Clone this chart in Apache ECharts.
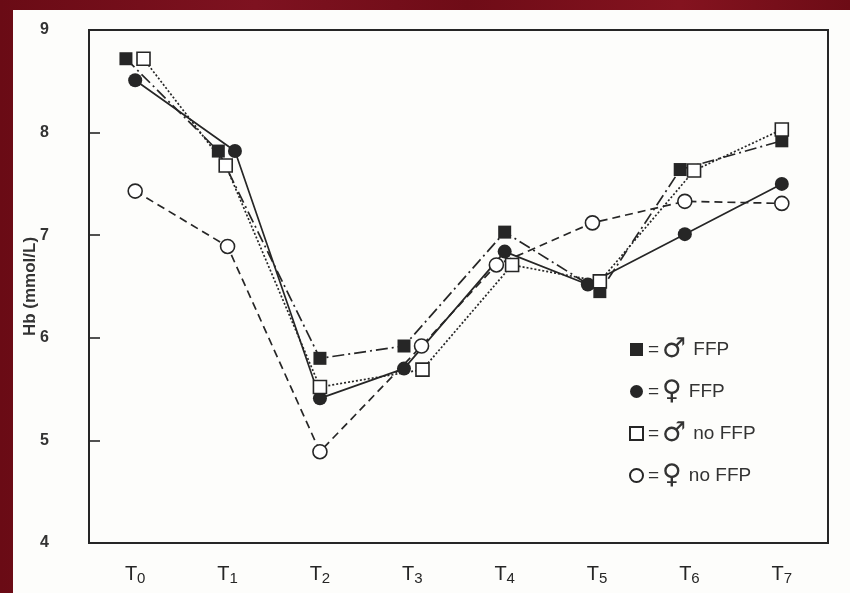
<!DOCTYPE html>
<html>
<head>
<meta charset="utf-8">
<script src="https://cdn.jsdelivr.net/npm/echarts@6/dist/echarts.min.js"></script>
<style>
  html, body { margin: 0; padding: 0; }
  body {
    width: 850px; height: 593px; overflow: hidden; position: relative;
    background: linear-gradient(90deg, #6a0b15 0%, #7e1220 30%, #6f0c17 55%, #84131f 80%, #6d0c16 100%);
  }
  #paper { position: absolute; left: 13px; top: 10px; width: 837px; height: 583px; background: #fdfdfb; }
  #chart { position: absolute; left: 0; top: 0; width: 850px; height: 593px; }
</style>
</head>
<body>
<div id="paper"></div>
<div id="chart"></div>
<script>
// Time points T0..T7 (subscript digit drawn via rich text)
const timeDigits = ['0', '1', '2', '3', '4', '5', '6', '7'];

// Hb (mmol/L) per group
const maleFFP     = [8.72, 7.82, 5.80, 5.92, 7.03, 6.45, 7.64, 7.92];
const femaleFFP   = [8.51, 7.82, 5.41, 5.70, 6.84, 6.52, 7.01, 7.50];
const maleNoFFP   = [8.72, 7.68, 5.52, 5.69, 6.71, 6.55, 7.63, 8.03];
const femaleNoFFP = [7.43, 6.89, 4.89, 5.92, 6.71, 7.12, 7.33, 7.31];

// small horizontal spread (in time-point units) so overlapping symbols stay visible
const maleFFPShift     = [-0.10, -0.10, 0, -0.09, 0, 0.03, -0.10, 0];
const femaleFFPShift   = [0, 0.08, 0, -0.09, 0, -0.10, -0.05, 0];
const maleNoFFPShift   = [0.09, -0.02, 0, 0.11, 0.08, 0.03, 0.05, 0];
const femaleNoFFPShift = [0, 0, 0, 0.10, -0.09, -0.05, -0.05, 0];

const groupNames = ['♂ FFP', '♀ FFP', '♂ no FFP', '♀ no FFP'];
const groupGender = ['♂', '♀', '♂', '♀'];
const groupLabel = ['FFP', 'FFP', 'no FFP', 'no FFP'];

const ink = '#262626';

function pts(vals, shift) {
  return vals.map((v, i) => [i + shift[i], v]);
}

function makeSeries(name, vals, shift, symbol, filled, lineType, size) {
  return {
    name: name,
    type: 'line',
    xAxisIndex: 1,
    data: pts(vals, shift),
    symbol: symbol,
    symbolSize: size,
    showAllSymbol: true,
    lineStyle: { color: ink, width: 1.7, type: lineType },
    itemStyle: {
      color: filled ? ink : '#ffffff',
      borderColor: ink,
      borderWidth: filled ? 0 : 1.6
    },
    emphasis: { disabled: true },
    animation: false
  };
}

const chart = echarts.init(document.getElementById('chart'), null, { renderer: 'canvas' });

const labelFont = '"Liberation Sans", Arial, sans-serif';

chart.setOption({
  backgroundColor: 'transparent',
  grid: {
    left: 89, right: 22, top: 30, bottom: 50,
    show: true, borderColor: ink, borderWidth: 2, backgroundColor: 'transparent'
  },
  xAxis: [
    {
      type: 'category',
      data: timeDigits,
      boundaryGap: true,
      axisLine: { lineStyle: { color: ink, width: 2 } },
      axisTick: { inside: true, alignWithLabel: true, length: 13, lineStyle: { color: ink, width: 1.6 } },
      axisLabel: {
        margin: 19,
        formatter: d => '{t|T}{s|' + d + '}',
        rich: {
          t: { fontSize: 20, color: ink, fontFamily: labelFont },
          s: { fontSize: 15, color: ink, fontFamily: labelFont, padding: [9, 0, 0, 0] }
        }
      },
      splitLine: { show: false }
    },
    {
      type: 'value',
      min: -0.5, max: 7.5,
      show: false
    }
  ],
  yAxis: {
    type: 'value',
    min: 4, max: 9, interval: 1,
    name: 'Hb (mmol/L)',
    nameLocation: 'middle',
    nameGap: 50,
    nameRotate: 90,
    nameMoveOverlap: false,
    nameTextStyle: { fontSize: 17, fontWeight: 'bold', color: '#333', fontFamily: labelFont },
    axisLine: { show: true, onZero: false, lineStyle: { color: ink, width: 2 } },
    axisTick: { show: true, inside: true, length: 11, lineStyle: { color: ink, width: 1.6 } },
    axisLabel: { margin: 40, fontSize: 16, fontWeight: 'bold', color: '#333', fontFamily: labelFont },
    splitLine: { show: false }
  },
  legend: {
    orient: 'vertical',
    left: 624, top: 331,
    itemWidth: 13, itemHeight: 13,
    itemGap: 15,
    data: [
      { name: groupNames[0], icon: 'rect' },
      { name: groupNames[1], icon: 'circle' },
      { name: groupNames[2], icon: 'rect' },
      { name: groupNames[3], icon: 'circle' }
    ],
    formatter: name => {
      const k = groupNames.indexOf(name);
      return '{e|=}{g|' + groupGender[k] + '}{t|' + groupLabel[k] + '}';
    },
    textStyle: {
      color: '#333',
      rich: {
        e: { fontSize: 19, color: '#333', fontFamily: labelFont, padding: [0, 3, 0, 0] },
        g: { fontSize: 27, color: '#333', fontFamily: '"DejaVu Sans", sans-serif', padding: [0, 7, 0, 0] },
        t: { fontSize: 19, color: '#333', fontFamily: labelFont }
      }
    },
    selectedMode: false
  },
  series: [
    makeSeries(groupNames[0], maleFFP, maleFFPShift, 'rect', true, [12, 4, 2, 4], 13),
    makeSeries(groupNames[1], femaleFFP, femaleFFPShift, 'circle', true, 'solid', 14),
    makeSeries(groupNames[2], maleNoFFP, maleNoFFPShift, 'rect', false, [2, 2], 13),
    makeSeries(groupNames[3], femaleNoFFP, femaleNoFFPShift, 'circle', false, [8, 5], 14)
  ]
});
</script>
</body>
</html>
